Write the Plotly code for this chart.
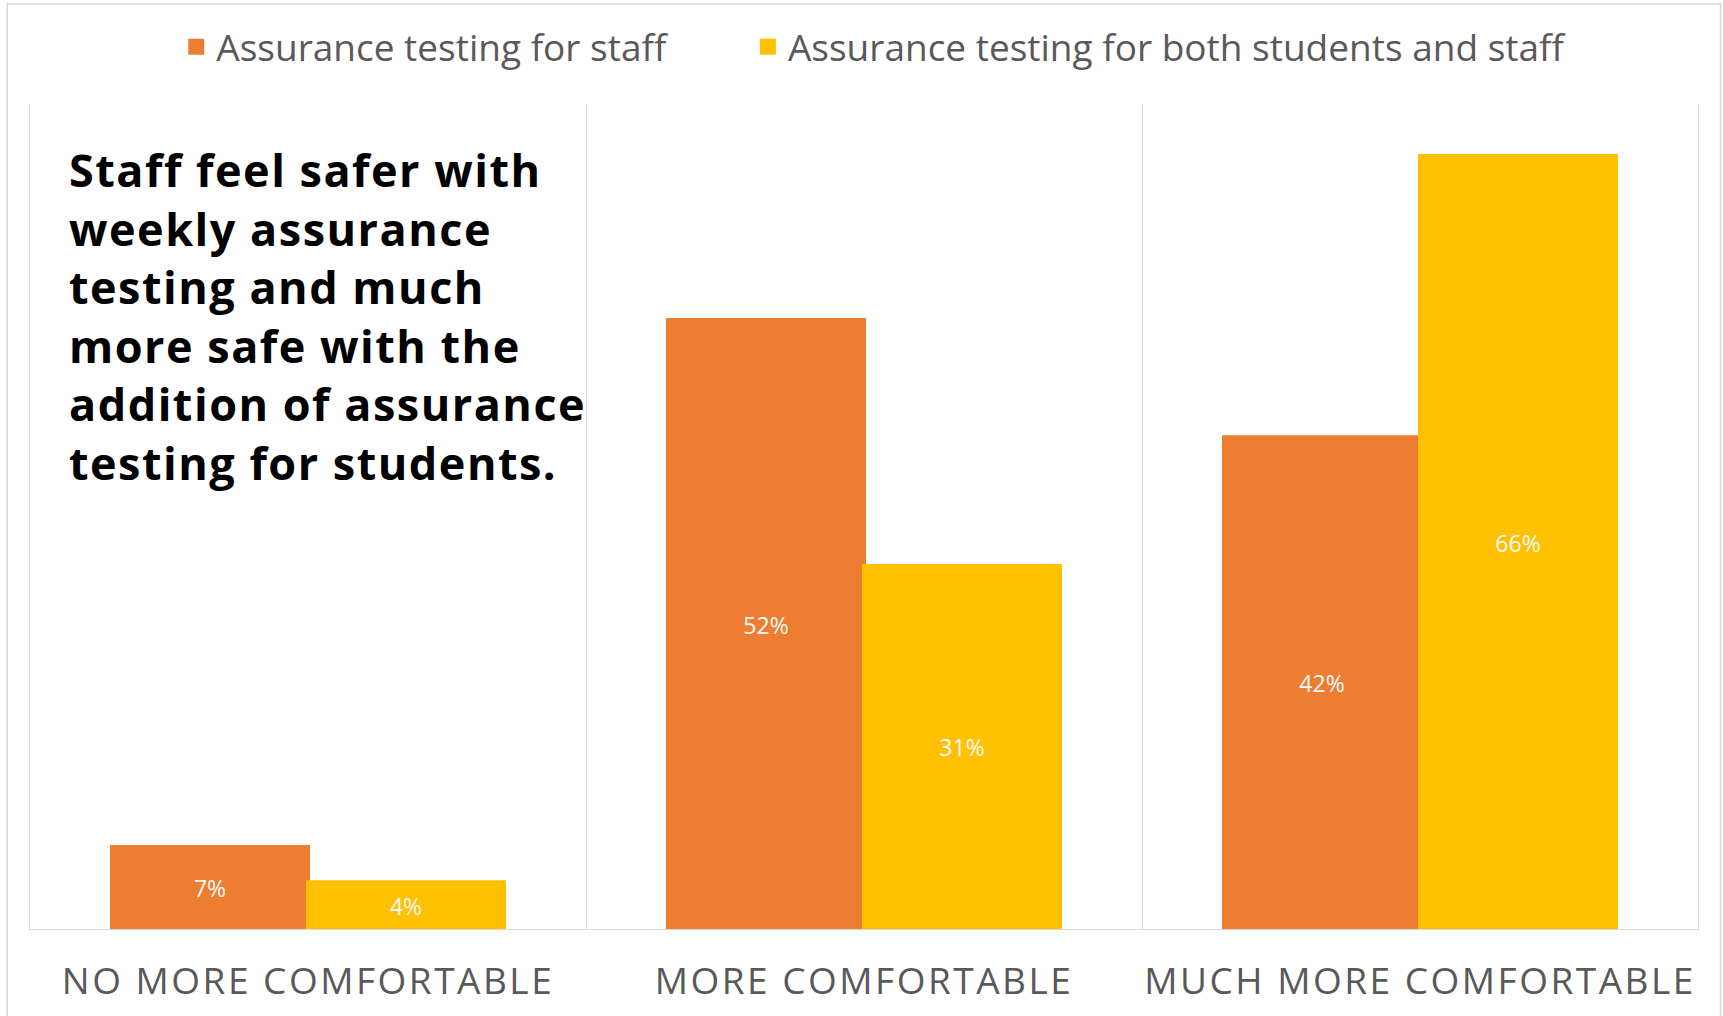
import plotly.graph_objects as go

categories = ["NO MORE COMFORTABLE", "MORE COMFORTABLE", "MUCH MORE COMFORTABLE"]
staff_values = [7, 52, 42]
both_values = [4, 31, 66]
series_names = ["Assurance testing for staff", "Assurance testing for both students and staff"]
series_colors = ["#ED7D31", "#FFC000"]
headline = ("Staff feel safer with<br>weekly assurance<br>testing and much<br>"
            "more safe with the<br>addition of assurance<br>testing for students.")

FONT = "Open Sans"
W, H = 1723, 1016
ML, MR, MT, MB = 30, 25, 104, 87

fig = go.Figure()
for name, vals, col, lg in zip(series_names, [staff_values, both_values], series_colors, ["legend", "legend2"]):
    fig.add_trace(go.Bar(
        x=categories, y=vals, name=name, legend=lg, showlegend=True,
        marker=dict(color=col, line=dict(width=4, color=col)),
        texttemplate="%{y}%", textposition="inside", insidetextanchor="middle",
        textangle=0, constraintext="none",
        textfont=dict(family=FONT, size=23, color="#FAFAFA"),
    ))

legend_style = dict(orientation="h", xanchor="left", y=1.069, yanchor="middle",
                    font=dict(family=FONT, size=37, color="#595959"),
                    bgcolor="rgba(0,0,0,0)")

fig.update_layout(
    width=W, height=H, showlegend=True,
    margin=dict(l=ML, r=MR, t=MT, b=MB, autoexpand=False),
    paper_bgcolor="white", plot_bgcolor="white",
    barmode="group", bargap=0.295, bargroupgap=0,
    font=dict(family=FONT, color="#595959"),
    legend=dict(x=0.0877, **legend_style),
    legend2=dict(x=0.4304, **legend_style),
    xaxis=dict(type="category", range=[-0.5, 2.5], tickson="boundaries", ticks="",
               showgrid=True, gridcolor="#D9D9D9", gridwidth=1,
               showline=True, linecolor="#D9D9D9", linewidth=1, automargin=False,
               tickfont=dict(family=FONT, size=37, color="#595959"),
               ticklabelstandoff=20),
    yaxis=dict(range=[0, 70.45], showticklabels=False, showgrid=False, zeroline=False,
               showline=True, mirror=True, linecolor="#D9D9D9", linewidth=1, ticks="",
               automargin=False),
    shapes=[dict(type="rect", xref="paper", yref="paper",
                 x0=-0.0136, x1=1.0135, y0=-0.13, y1=1.1212,
                 line=dict(color="#D6D6D6", width=1.5), fillcolor="rgba(0,0,0,0)", layer="below")],
    annotations=[dict(text=headline, xref="paper", yref="paper", x=0.022, y=0.96,
                      xanchor="left", yanchor="top", align="left", showarrow=False,
                      font=dict(family=FONT, size=45, color="black", weight=700))],
)

post = ("document.body.style.margin='0';"
        "document.querySelectorAll('.xtick text').forEach(function(t){t.style.letterSpacing='2.5px';});"
        "document.querySelectorAll('.annotation-text').forEach(function(t){t.style.letterSpacing='1.5px';});")
fig.write_html("out.html", post_script=post, config={"displayModeBar": False})
